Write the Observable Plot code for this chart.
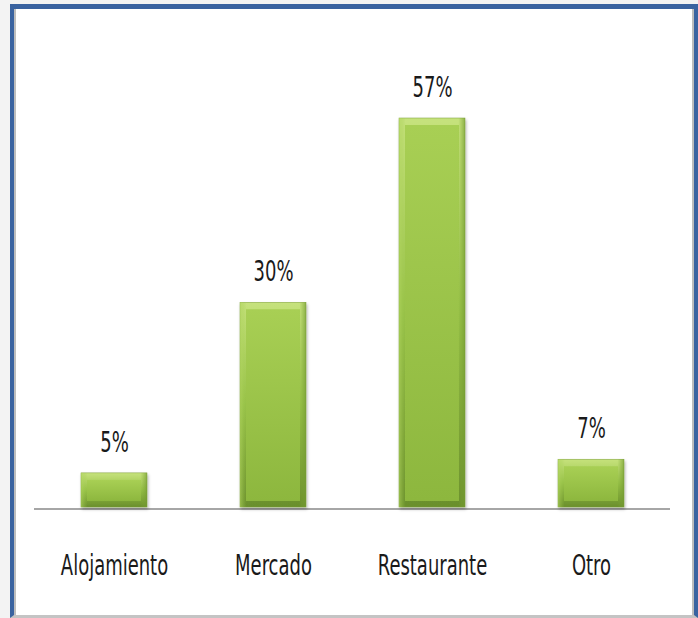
<!DOCTYPE html>
<html>
<head>
<meta charset="utf-8">
<script src="https://cdn.jsdelivr.net/npm/d3@7"></script>
<script src="https://cdn.jsdelivr.net/npm/@observablehq/plot@0.6"></script>
<style>
  html, body { margin: 0; padding: 0; background: #f3f3f3; }
  #wrap { position: relative; width: 698px; height: 618px; overflow: hidden; }
  #panel { position: absolute; left: 10px; top: 4px; width: 688px; height: 614px; background: #fff; box-sizing: border-box; }
  #chart { position: absolute; left: 0; top: 0; }
  #frame { position: absolute; left: 10px; top: 4px; width: 688px; height: 614px; box-sizing: border-box;
           border-left: 4px solid #3a63a0; border-top: 5px solid #3a63a0; border-right: 4px solid #3a63a0;
           border-bottom: 3px solid #c4c4c4; pointer-events: none; }
  #inner { position: absolute; left: 0; top: 0; right: 0; bottom: 0; border-left: 2px solid #bdbdbd; border-right: 2px solid #bdbdbd; }
  svg text { font-family: "Liberation Sans Narrow", "DejaVu Sans Condensed", "Open Sans", sans-serif; font-stretch: condensed; }
</style>
</head>
<body>
<div id="wrap">
  <div id="panel"></div>
  <div id="chart"></div>
  <div id="frame"><div id="inner"></div></div>
</div>
<script>
const categories = ["Alojamiento", "Mercado", "Restaurante", "Otro"];
const values = [5, 30, 57, 7];
const valueLabels = ["5%", "30%", "57%", "7%"];

const data = categories.map((c, i) => ({category: c, value: values[i], label: valueLabels[i]}));

const chart = Plot.plot({
  width: 698,
  height: 618,
  marginLeft: 34,
  marginRight: 28,
  marginTop: 118,
  marginBottom: 111,
  style: {background: "transparent", overflow: "visible"},
  x: {domain: categories, paddingInner: 0.585, paddingOuter: 0.2925, label: null},
  y: {domain: [0, 57], axis: null},
  marks: [
    () => {
      const ns = "http://www.w3.org/2000/svg";
      const defs = document.createElementNS(ns, "defs");
      defs.innerHTML = `
        <linearGradient id="outerG" x1="0" y1="0" x2="0" y2="1">
          <stop offset="0" stop-color="#c6e27c"/>
          <stop offset="0.5" stop-color="#97c147"/>
          <stop offset="1" stop-color="#6a8f2c"/>
        </linearGradient>
        <linearGradient id="innerG" x1="0" y1="0" x2="0" y2="1">
          <stop offset="0" stop-color="#a8cf54"/>
          <stop offset="1" stop-color="#8db73e"/>
        </linearGradient>
        <linearGradient id="sideG" x1="0" y1="0" x2="1" y2="0">
          <stop offset="0" stop-color="#b3d761" stop-opacity="0.6"/>
          <stop offset="0.1" stop-color="#9cc64a" stop-opacity="0"/>
          <stop offset="0.9" stop-color="#7fa735" stop-opacity="0"/>
          <stop offset="1" stop-color="#739a31" stop-opacity="0.7"/>
        </linearGradient>
        <filter id="shadow" x="-20%" y="-20%" width="140%" height="140%">
          <feDropShadow dx="1" dy="2" stdDeviation="1.5" flood-color="#000" flood-opacity="0.3"/>
        </filter>`;
      return defs;
    },
    Plot.ruleY([0], {stroke: "#a6a6a6", strokeWidth: 2, dy: 1.5}),
    Plot.barY(data, {x: "category", y: "value", fill: "url(#outerG)", stroke: "#7a9e35", strokeWidth: 0.5, filter: null}),
    Plot.barY(data, {x: "category", y: "value", fill: "url(#innerG)", insetLeft: 6, insetRight: 6, insetTop: 7, insetBottom: 6}),
    Plot.barY(data, {x: "category", y: "value", fill: "url(#sideG)"}),
    Plot.text(data, {x: "category", y: "value", text: "label", dy: -31, fontSize: 20, fill: "#1a1a1a"}),
    Plot.axisX({tickSize: 0, tickPadding: 47, fontSize: 20, color: "#1a1a1a", label: null})
  ]
});
// apply the shadow filter to the outer bars and stretch text vertically like the reference
const rects = chart.querySelectorAll("g[aria-label='bar']");
if (rects[0]) rects[0].setAttribute("filter", "url(#shadow)");
chart.querySelectorAll("text").forEach(t => {
  const tr = t.getAttribute("transform") || "";
  t.setAttribute("transform", tr + " scale(1,1.45)");
});
document.getElementById("chart").appendChild(chart);
</script>
</body>
</html>
